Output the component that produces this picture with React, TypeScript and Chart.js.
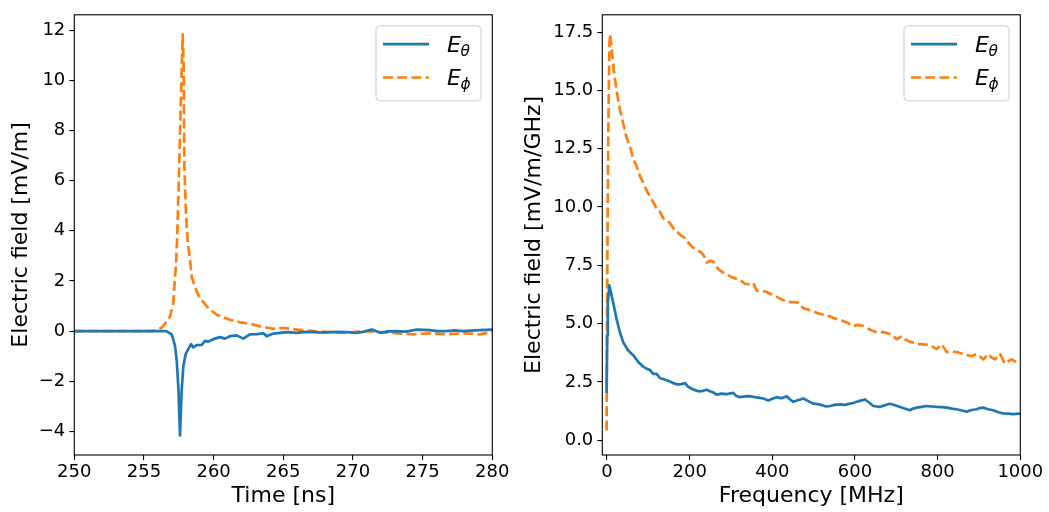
import { useEffect, useRef } from "react";
import { Chart, registerables } from "chart.js";

Chart.register(...registerables);
Chart.defaults.font.family = "'DejaVu Sans', sans-serif";
Chart.defaults.color = "#000";

const BLUE = "#1f77b4";
const ORANGE = "#ff7f0e";

// Time-domain pulse: [time (ns), field (mV/m)]
const timeTheta: [number, number][] = [
  [249, 0], [250, 0], [252, 0], [254, 0], [256, 0], [256.6, 0], [256.99, -0.13],
  [257.23, -0.59], [257.35, -1.17], [257.47, -2.28], [257.59, -4.16], [257.7, -2.41],
  [257.83, -1.37], [258.0, -0.91], [258.18, -0.72], [258.38, -0.52], [258.54, -0.65],
  [258.78, -0.56], [259.15, -0.55], [259.38, -0.39], [259.62, -0.42], [259.86, -0.35],
  [260.1, -0.3], [260.46, -0.24], [260.82, -0.3], [261.18, -0.2], [261.66, -0.17],
  [262.13, -0.3], [262.6, -0.13], [263.1, -0.12], [263.57, -0.09], [263.8, -0.2],
  [264.3, -0.1], [264.77, -0.07], [265.25, -0.04], [265.97, -0.07], [266.5, -0.03],
  [267.16, -0.04], [267.8, -0.06], [268.36, -0.04], [269, -0.03], [269.55, -0.04],
  [270.27, -0.07], [270.8, -0.02], [271.35, 0.06], [271.95, -0.07], [272.5, -0.01],
  [273.14, 0], [273.8, -0.02], [274.58, 0.06], [275.5, 0.04], [276.1, 0], [276.7, 0],
  [277.3, 0.03], [277.9, 0], [278.5, 0.02], [279.1, 0.04], [279.96, 0.06], [281, 0.05],
];

const timePhi: [number, number][] = [
  [249, 0], [250, 0], [252, 0], [254, 0], [255.4, 0], [255.8, 0.02], [256.27, 0.13],
  [256.58, 0.35], [256.87, 0.58], [257.1, 1.1], [257.3, 2.67], [257.39, 3.83],
  [257.52, 6.4], [257.71, 10.5], [257.78, 11.83], [257.85, 10.5], [257.9, 6.56],
  [258.02, 4.62], [258.14, 3.57], [258.31, 2.79], [258.43, 2.15], [258.67, 1.76],
  [258.9, 1.43], [259.15, 1.23], [259.62, 0.91], [260.22, 0.65], [261.17, 0.45],
  [261.9, 0.35], [262.6, 0.3], [263.33, 0.19], [264.3, 0.09], [265, 0.13], [266, 0.06],
  [267.2, 0], [268.36, -0.04], [269.55, -0.07], [270.75, 0], [271.95, -0.04],
  [273.14, -0.09], [274.3, -0.13], [275.5, -0.09], [276.7, -0.13], [277.9, -0.09],
  [279.1, -0.13], [279.96, -0.04], [281, -0.05],
];

// Spectrum: [frequency (MHz), field (mV/m/GHz)]
const freqTheta: [number, number][] = [
  [-1, 2.03], [0.5, 4.5], [2, 5.9], [5.6, 6.64], [10, 6.3], [15.3, 5.87], [23.5, 5.17],
  [31.5, 4.61], [39.5, 4.19], [47.7, 3.95], [51.5, 3.85], [63.6, 3.64], [75.7, 3.36],
  [87.8, 3.15], [96, 3.07], [104, 3.01], [112, 2.85], [120, 2.85], [128.2, 2.66],
  [136, 2.63], [152.4, 2.52], [160.4, 2.45], [168.6, 2.4], [178, 2.4], [188.7, 2.45],
  [196, 2.3], [204.9, 2.21], [213, 2.15], [221, 2.1], [233, 2.12], [241, 2.17],
  [249.2, 2.1], [257, 2.05], [265.4, 1.96], [277, 2.0], [289.6, 1.98], [305.6, 2.03],
  [313, 1.9], [321.8, 1.85], [334, 1.88], [346, 1.89], [358, 1.85], [370.2, 1.82],
  [380, 1.78], [390.3, 1.71], [400, 1.78], [410.6, 1.85], [422, 1.8], [434.8, 1.89],
  [443, 1.75], [450.8, 1.65], [462, 1.72], [475, 1.79], [487, 1.68], [499.2, 1.57],
  [510, 1.55], [519.4, 1.51], [530, 1.45], [539.6, 1.47], [551, 1.52], [563.7, 1.54],
  [575, 1.52], [587.9, 1.57], [596, 1.6], [604, 1.65], [614, 1.7], [624.2, 1.75],
  [634, 1.62], [644.4, 1.47], [652, 1.45], [660.5, 1.43], [672, 1.5], [684.7, 1.57],
  [697, 1.5], [708.9, 1.43], [720, 1.36], [733.1, 1.29], [741, 1.36], [749.3, 1.4],
  [761, 1.43], [773.5, 1.47], [785, 1.45], [797.7, 1.43], [810, 1.42], [821.9, 1.4],
  [834, 1.36], [846, 1.33], [858, 1.28], [870.3, 1.23], [882, 1.3], [894.5, 1.33],
  [902, 1.38], [910.6, 1.4], [922, 1.33], [934.8, 1.29], [947, 1.2], [959, 1.15],
  [970, 1.14], [983.2, 1.12], [999.3, 1.15], [1005, 1.12],
];

const freqPhi: [number, number][] = [
  [-1, 0.42], [0, 4.5], [0.7, 7.3], [1.7, 10.0], [3, 12.9], [4.8, 15.7], [6, 17.0],
  [7.3, 17.41], [11.4, 16.78], [16, 15.9], [23.5, 14.96], [31, 14.2], [39.5, 13.56],
  [47, 13.0], [55.6, 12.58], [63, 12.1], [71.9, 11.74], [79.8, 11.32], [87.8, 11.04],
  [96, 10.7], [104, 10.45], [112, 10.21], [120, 9.93], [128.2, 9.79], [136.2, 9.51],
  [144, 9.45], [152.4, 9.3], [160.5, 9.09], [168.6, 8.95], [178, 8.8], [188.7, 8.67],
  [200.8, 8.39], [208.8, 8.25], [219, 8.15], [229, 8.04], [235, 7.9], [241, 7.62],
  [250, 7.7], [257.2, 7.66], [263, 7.5], [269.3, 7.34], [280, 7.2], [289.6, 7.13],
  [300, 7.0], [313.8, 6.92], [323, 6.85], [333.9, 6.71], [345, 6.68], [354, 6.74],
  [362.2, 6.41], [374, 6.4], [386.4, 6.36], [398, 6.25], [410.6, 6.15], [422, 6.05],
  [434.8, 5.94], [448, 5.92], [462.9, 5.9], [475, 5.66], [487, 5.6], [499.2, 5.52],
  [511, 5.45], [523.4, 5.38], [539.6, 5.31], [551, 5.22], [563.7, 5.17], [580, 5.05],
  [596, 4.9], [608, 4.95], [620.2, 4.9], [632, 4.78], [644.4, 4.68], [656, 4.62],
  [668.6, 4.64], [680, 4.58], [688.8, 4.54], [700.9, 4.33], [713, 4.47], [722, 4.32],
  [733.1, 4.22], [745, 4.18], [757.3, 4.12], [770, 4.1], [781.5, 4.08], [797.7, 3.91],
  [809.8, 4.12], [821.9, 3.78], [834, 3.8], [846, 3.78], [858, 3.72], [870.3, 3.66],
  [882, 3.6], [894.5, 3.7], [902, 3.6], [910.6, 3.47], [922.6, 3.7], [930, 3.55],
  [938.8, 3.47], [950.9, 3.7], [963, 3.28], [972, 3.4], [979.2, 3.47], [990, 3.35],
  [999.3, 3.38], [1005, 3.4],
];

const timeTicks = [250, 255, 260, 265, 270, 275, 280];
const timeFieldTicks = [-4, -2, 0, 2, 4, 6, 8, 10, 12];
const freqTicks = [0, 200, 400, 600, 800, 1000];
const freqFieldTicks = [0, 2.5, 5, 7.5, 10, 12.5, 15, 17.5];

const legendEntries = [
  { base: "E", sub: "θ", color: BLUE, dash: [] as number[] },
  { base: "E", sub: "ϕ", color: ORANGE, dash: [10, 4.2] },
];

const LINE_W = 2.7;
const LABEL_SIZE = 22;
const minus = (v: number) => (v < 0 ? "\u2212" + Math.abs(v) : String(v));

// Full box around the plotting area plus a math-style legend in the upper right.
const framePlugin = {
  id: "frameAndLegend",
  afterDatasetsDraw(chart: any) {
    const { ctx, chartArea: a } = chart;
    ctx.save();
    ctx.strokeStyle = "#000";
    ctx.lineWidth = 1.1;
    ctx.strokeRect(a.left, a.top, a.right - a.left, a.bottom - a.top);

    const w = 105;
    const h = 75;
    const x0 = a.right - 11.3 - w;
    const y0 = a.top + 11;
    const r = 4;
    ctx.beginPath();
    ctx.moveTo(x0 + r, y0);
    ctx.lineTo(x0 + w - r, y0);
    ctx.quadraticCurveTo(x0 + w, y0, x0 + w, y0 + r);
    ctx.lineTo(x0 + w, y0 + h - r);
    ctx.quadraticCurveTo(x0 + w, y0 + h, x0 + w - r, y0 + h);
    ctx.lineTo(x0 + r, y0 + h);
    ctx.quadraticCurveTo(x0, y0 + h, x0, y0 + h - r);
    ctx.lineTo(x0, y0 + r);
    ctx.quadraticCurveTo(x0, y0, x0 + r, y0);
    ctx.closePath();
    ctx.fillStyle = "rgba(255,255,255,0.8)";
    ctx.fill();
    ctx.strokeStyle = "#cccccc";
    ctx.lineWidth = 1;
    ctx.stroke();

    legendEntries.forEach((e, i) => {
      const ly = y0 + 18.3 + i * 33.4;
      ctx.beginPath();
      ctx.setLineDash(e.dash);
      ctx.lineWidth = LINE_W;
      ctx.strokeStyle = e.color;
      ctx.lineCap = "butt";
      ctx.moveTo(x0 + 7, ly);
      ctx.lineTo(x0 + 53, ly);
      ctx.stroke();
      ctx.setLineDash([]);
      ctx.fillStyle = "#000";
      ctx.textBaseline = "alphabetic";
      ctx.textAlign = "left";
      ctx.font = `italic ${LABEL_SIZE}px 'DejaVu Sans'`;
      ctx.fillText(e.base, x0 + 71, ly + 7.5);
      const ew = ctx.measureText(e.base).width;
      ctx.font = `italic ${LABEL_SIZE * 0.7}px 'DejaVu Sans'`;
      ctx.fillText(e.sub, x0 + 71 + ew - 0.5, ly + 11.5);
    });
    ctx.restore();
  },
};

type PanelSpec = {
  theta: [number, number][];
  phi: [number, number][];
  xMin: number;
  xMax: number;
  yMin: number;
  yMax: number;
  xTicks: number[];
  yTicks: number[];
  xTitle: string;
  yTitle: string;
  yFmt: (v: number) => string;
  yAxisWidth: number;
  padRight: number;
  yTitlePad: number;
};

function buildConfig(p: PanelSpec): any {
  const tickGrid = {
    drawOnChartArea: false,
    drawTicks: true,
    tickLength: 5,
    color: "#000",
    lineWidth: 1.1,
  };
  return {
    type: "line",
    data: {
      datasets: [
        {
          data: p.theta.map(([x, y]) => ({ x, y })),
          borderColor: BLUE,
          borderWidth: LINE_W,
          pointRadius: 0,
          tension: 0,
          borderJoinStyle: "round",
          borderCapStyle: "butt",
          fill: false,
        },
        {
          data: p.phi.map(([x, y]) => ({ x, y })),
          borderColor: ORANGE,
          borderWidth: LINE_W,
          borderDash: [10, 4.2],
          pointRadius: 0,
          tension: 0,
          borderJoinStyle: "round",
          borderCapStyle: "butt",
          fill: false,
        },
      ],
    },
    options: {
      animation: false,
      responsive: false,
      devicePixelRatio: 1,
      layout: { padding: { left: 0, right: p.padRight, top: 5, bottom: 0 } },
      plugins: { legend: { display: false }, tooltip: { enabled: false } },
      scales: {
        x: {
          type: "linear",
          min: p.xMin,
          max: p.xMax,
          afterBuildTicks: (s: any) => {
            s.ticks = p.xTicks.map((v) => ({ value: v }));
          },
          afterFit: (s: any) => {
            s.height = 57;
          },
          grid: tickGrid,
          border: { display: false },
          ticks: {
            color: "#000",
            font: { size: 18 },
            padding: 2,
            maxRotation: 0,
            autoSkip: false,
            callback: (v: number) => minus(v),
          },
          title: {
            display: true,
            text: p.xTitle,
            color: "#000",
            font: { size: LABEL_SIZE },
            padding: { top: 0, bottom: 2.4 },
          },
        },
        y: {
          type: "linear",
          min: p.yMin,
          max: p.yMax,
          afterBuildTicks: (s: any) => {
            s.ticks = p.yTicks.map((v) => ({ value: v }));
          },
          afterFit: (s: any) => {
            s.width = p.yAxisWidth;
          },
          grid: tickGrid,
          border: { display: false },
          ticks: {
            color: "#000",
            font: { size: 18 },
            padding: 4,
            autoSkip: false,
            callback: (v: number) => p.yFmt(v),
          },
          title: {
            display: true,
            text: p.yTitle,
            color: "#000",
            font: { size: LABEL_SIZE },
            padding: { top: p.yTitlePad, bottom: 0 },
          },
        },
      },
    },
    plugins: [framePlugin],
  };
}

export default function App() {
  const leftRef = useRef<HTMLCanvasElement>(null);
  const rightRef = useRef<HTMLCanvasElement>(null);

  useEffect(() => {
    const left = new Chart(
      leftRef.current!,
      buildConfig({
        theta: timeTheta,
        phi: timePhi,
        xMin: 250,
        xMax: 280,
        yMin: -4.94,
        yMax: 12.61,
        xTicks: timeTicks,
        yTicks: timeFieldTicks,
        xTitle: "Time [ns]",
        yTitle: "Electric field [mV/m]",
        yFmt: (v) => minus(v),
        yAxisWidth: 74.3,
        padRight: 22.7,
        yTitlePad: 7.8,
      })
    );
    const right = new Chart(
      rightRef.current!,
      buildConfig({
        theta: freqTheta,
        phi: freqPhi,
        xMin: -11.4,
        xMax: 1000,
        yMin: -0.63,
        yMax: 18.24,
        xTicks: freqTicks,
        yTicks: freqFieldTicks,
        xTitle: "Frequency [MHz]",
        yTitle: "Electric field [mV/m/GHz]",
        yFmt: (v) => v.toFixed(1),
        yAxisWidth: 87.3,
        padRight: 28.7,
        yTitlePad: 6.2,
      })
    );
    return () => {
      left.destroy();
      right.destroy();
    };
  }, []);

  return (
    <div
      style={{
        position: "absolute",
        left: 0,
        top: 0,
        width: 1049,
        height: 512,
        background: "#fff",
      }}
    >
      <canvas
        ref={leftRef}
        width={515}
        height={512}
        style={{ position: "absolute", left: 0, top: 0 }}
      />
      <canvas
        ref={rightRef}
        width={534}
        height={512}
        style={{ position: "absolute", left: 515, top: 0 }}
      />
    </div>
  );
}
